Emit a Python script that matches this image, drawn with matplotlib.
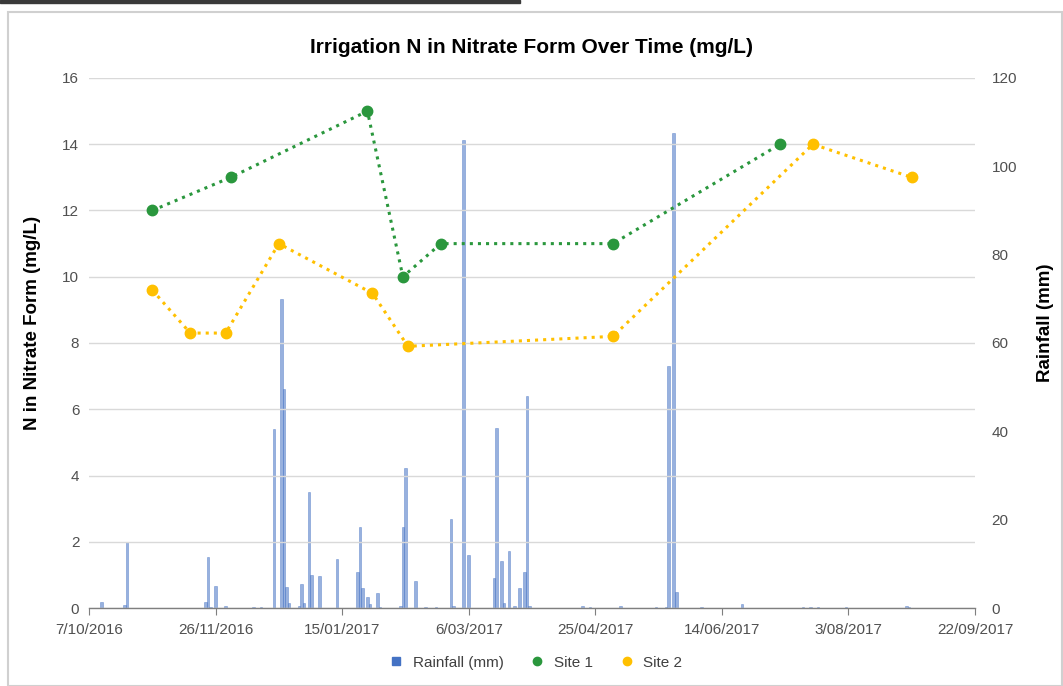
import pandas as pd
import matplotlib
matplotlib.use("Agg")
import matplotlib.pyplot as plt
import matplotlib.dates as mdates
from matplotlib.lines import Line2D
from matplotlib.patches import Rectangle

plt.rcParams["font.family"] = ["Liberation Sans", "DejaVu Sans"]

# Start of the x axis; rainfall days are counted from here
start = pd.Timestamp("2016-10-07")
end = pd.Timestamp("2017-09-22")

# Rainfall (mm), day offset from start
rain_day = [5, 14, 15, 46, 47, 48, 50, 54, 65, 68, 73, 76, 77, 78, 79, 83, 84, 85,
            87, 88, 91, 98, 106, 107, 108, 110, 111, 114, 115, 123, 124, 125, 129,
            133, 137, 143, 144, 148, 150, 160, 161, 163, 164, 166, 168, 170, 172,
            173, 174, 195, 198, 210, 224, 228, 229, 231, 232, 242, 258, 282, 285,
            288, 299, 323, 324]
rain_mm = [1.4, 0.7, 15.0, 1.3, 11.6, 0.3, 5.0, 0.5, 0.3, 0.3, 40.5, 70.0, 49.5, 4.8,
           1.2, 0.5, 5.4, 1.2, 26.3, 7.5, 7.3, 11.0, 8.2, 18.3, 4.5, 2.4, 0.8, 3.3,
           0.3, 0.5, 18.3, 31.6, 6.1, 0.3, 0.3, 20.1, 0.5, 106.0, 11.9, 6.7, 40.7,
           10.7, 1.1, 13.0, 0.4, 4.5, 8.2, 48.1, 0.5, 0.4, 0.3, 0.5, 0.3, 0.3, 54.9,
           107.5, 3.7, 0.3, 1.0, 0.3, 0.3, 0.3, 0.3, 0.4, 0.3]

# Irrigation N in nitrate form (mg/L)
site1_dates = ["2016-11-01", "2016-12-02", "2017-01-25", "2017-02-08",
               "2017-02-23", "2017-05-02", "2017-07-07"]
site1_vals = [12, 13, 15, 10, 11, 11, 14]

site2_dates = ["2016-11-01", "2016-11-16", "2016-11-30", "2016-12-21", "2017-01-27",
               "2017-02-10", "2017-05-02", "2017-07-20", "2017-08-28"]
site2_vals = [9.6, 8.3, 8.3, 11, 9.5, 7.9, 8.2, 14, 13]

rain_dates = start + pd.to_timedelta(rain_day, unit="D")
s1 = pd.to_datetime(site1_dates)
s2 = pd.to_datetime(site2_dates)

blue = "#4472C4"
green = "#2a973d"
yellow = "#ffc000"
grey_txt = "#505050"

fig = plt.figure(figsize=(10.63, 6.86), dpi=100)
ax = fig.add_axes([0.0837, 0.1137, 0.8335, 0.7726])
ax2 = ax.twinx()

# bars on the right axis, lines on the left axis drawn on top
ax2.bar(rain_dates, rain_mm, width=1.0, color=blue, alpha=0.55,
        edgecolor=blue, linewidth=0.5)
ax.set_zorder(ax2.get_zorder() + 1)
ax.patch.set_visible(False)

ax.plot(s1, site1_vals, linestyle=":", linewidth=2.2, color=green,
        marker="o", markersize=7.5, zorder=3)
ax.plot(s2, site2_vals, linestyle=":", linewidth=2.2, color=yellow,
        marker="o", markersize=7.5, zorder=3)

ax.set_xlim(start, end)
ax.set_ylim(0, 16)
ax2.set_ylim(0, 120)
ax.set_yticks(range(0, 17, 2))
ax2.set_yticks(range(0, 121, 20))

ticks = pd.date_range(start, end, freq="50D")
ax.set_xticks(ticks)
ax.xaxis.set_major_formatter(
    plt.FuncFormatter(lambda v, p: (lambda d: f"{d.day}/{d.month:02d}/{d.year}")(mdates.num2date(v))))

ax.grid(axis="y", color="#d9d9d9", linewidth=1.0, zorder=0)
ax.set_axisbelow(True)

for a in (ax, ax2):
    for s in ("top", "left", "right", "bottom"):
        a.spines[s].set_visible(False)
ax.spines["bottom"].set_visible(True)
ax.spines["bottom"].set_color("#7f7f7f")
ax.spines["bottom"].set_linewidth(1.0)

ax.tick_params(axis="y", length=0, labelsize=11, labelcolor=grey_txt, pad=7)
ax2.tick_params(axis="y", length=0, labelsize=11, labelcolor=grey_txt, pad=12)
ax.tick_params(axis="x", length=5, color="#7f7f7f", labelsize=11,
               labelcolor=grey_txt, pad=6)

ax.set_ylabel("N in Nitrate Form (mg/L)", fontsize=13.5, fontweight="bold")
ax2.set_ylabel("Rainfall (mm)", fontsize=13.5, fontweight="bold")
ax.yaxis.set_label_coords(-0.054, 0.538)
ax2.yaxis.set_label_coords(1.070, 0.538)

fig.text(0.5, 0.931, "Irrigation N in Nitrate Form Over Time (mg/L)",
         ha="center", va="center", fontsize=15, fontweight="bold")

handles = [
    Line2D([], [], linestyle="none", marker="s", markersize=6, color=blue),
    Line2D([], [], linestyle="none", marker="o", markersize=6, color=green),
    Line2D([], [], linestyle="none", marker="o", markersize=6, color=yellow),
]
fig.legend(handles, ["Rainfall (mm)", "Site 1", "Site 2"], loc="center",
           bbox_to_anchor=(0.5, 0.034), ncol=3, frameon=False, fontsize=11,
           handletextpad=0.1, columnspacing=1.2, labelcolor="#404040")

# chart border and the dark strip from the screenshot
fig.patches.append(Rectangle((8 / 1063, 0), 1 - 8 / 1063 - 0.001, 1 - 12 / 686,
                             transform=fig.transFigure, fill=False,
                             edgecolor="#d0d0d0", linewidth=1.5))
fig.patches.append(Rectangle((0, 1 - 3 / 686), 520 / 1063, 3 / 686,
                             transform=fig.transFigure, color="#3a3a3a"))

fig.savefig("out.png", dpi=100)
